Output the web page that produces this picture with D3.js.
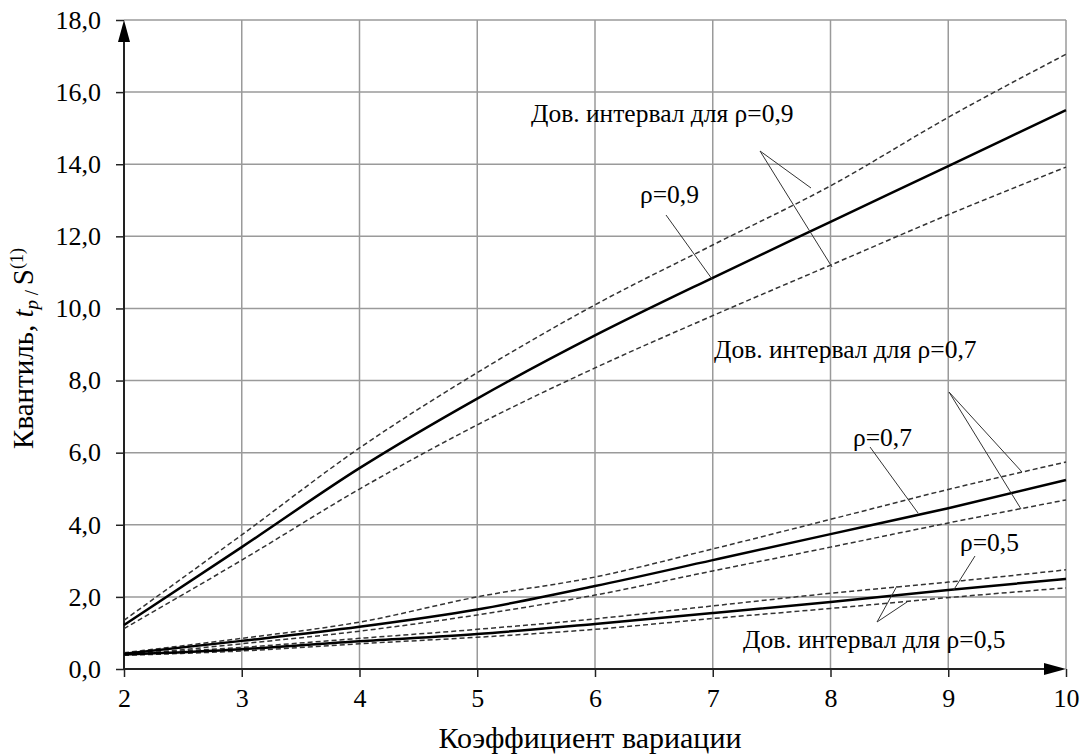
<!DOCTYPE html>
<html>
<head>
<meta charset="utf-8">
<script src="https://cdn.jsdelivr.net/npm/d3@7"></script>
</head>
<body style="margin:0; background:#fff">
<svg id="chart"></svg>
<script>
// values
const cv = [2, 3, 4, 5, 6, 7, 8, 9, 10];

const rho9 = [1.22, 3.38, 5.57, 7.5, 9.25, 10.85, 12.4, 13.95, 15.5];
const rho9Hi = [1.35, 3.72, 6.13, 8.22, 10.1, 11.76, 13.4, 15.3, 17.05];
const rho9Lo = [1.12, 3.02, 4.99, 6.77, 8.35, 9.8, 11.2, 12.6, 13.92];

const rho7 = [0.42, 0.78, 1.17, 1.65, 2.3, 3.02, 3.74, 4.46, 5.24];
const rho7Hi = [0.45, 0.85, 1.3, 2.0, 2.55, 3.33, 4.15, 4.98, 5.74];
const rho7Lo = [0.38, 0.7, 1.05, 1.5, 2.05, 2.72, 3.38, 4.05, 4.69];

const rho5 = [0.4, 0.55, 0.77, 0.97, 1.25, 1.55, 1.86, 2.19, 2.5];
const rho5Hi = [0.42, 0.6, 0.85, 1.1, 1.39, 1.75, 2.1, 2.41, 2.75];
const rho5Lo = [0.38, 0.5, 0.7, 0.88, 1.1, 1.4, 1.68, 1.98, 2.25];

const xTicks = [2, 3, 4, 5, 6, 7, 8, 9, 10];
const yTicks = [0, 2, 4, 6, 8, 10, 12, 14, 16, 18];

const width = 1086;
const height = 756;
const margin = {left: 124, right: 20, top: 20, bottom: 87};
const serif = "Liberation Serif";

const svg = d3.select("#chart")
    .attr("width", width)
    .attr("height", height);

const x = d3.scaleLinear().domain([2, 10]).range([margin.left, width - margin.right]);
const y = d3.scaleLinear().domain([0, 18]).range([height - margin.bottom, margin.top]);

const fmt = d => d3.format(".1f")(d).replace(".", ",");

// grid
svg.append("g")
    .attr("stroke", "#9a9a9a")
    .attr("stroke-width", 1.5)
    .call(g => g.selectAll("line.v").data(xTicks.slice(1)).join("line")
        .attr("x1", d => x(d)).attr("x2", d => x(d))
        .attr("y1", y(0)).attr("y2", y(18)))
    .call(g => g.selectAll("line.h").data(yTicks.slice(1)).join("line")
        .attr("y1", d => y(d)).attr("y2", d => y(d))
        .attr("x1", x(2)).attr("x2", x(10)));

// axes
const xAxis = svg.append("g")
    .attr("transform", `translate(0,${y(0)})`)
    .call(d3.axisBottom(x).tickValues(xTicks).tickSize(8).tickPadding(12).tickFormat(d3.format("d")));
const yAxis = svg.append("g")
    .attr("transform", `translate(${x(2)},0)`)
    .call(d3.axisLeft(y).tickValues(yTicks).tickSize(8).tickPadding(15).tickFormat(fmt));

[xAxis, yAxis].forEach(a => {
    a.select(".domain").remove();
    a.selectAll("line").attr("stroke", "#222").attr("stroke-width", 1.5);
    a.selectAll("text")
        .attr("font-family", serif)
        .attr("font-size", 26)
        .attr("fill", "#000");
});

svg.append("line")
    .attr("x1", x(2)).attr("x2", x(10) - 10)
    .attr("y1", y(0)).attr("y2", y(0))
    .attr("stroke", "#222").attr("stroke-width", 2);
svg.append("line")
    .attr("x1", x(2)).attr("x2", x(2))
    .attr("y1", y(0)).attr("y2", y(18) + 10)
    .attr("stroke", "#222").attr("stroke-width", 2);

// arrows
svg.append("path")
    .attr("d", `M${x(10)},${y(0)} L${x(10) - 22},${y(0) - 6} L${x(10) - 22},${y(0) + 6} Z`)
    .attr("fill", "#000");
svg.append("path")
    .attr("d", `M${x(2)},${y(18)} L${x(2) - 6},${y(18) + 22} L${x(2) + 6},${y(18) + 22} Z`)
    .attr("fill", "#000");

// curves
const line = d3.line()
    .x((d, i) => x(cv[i]))
    .y(d => y(d))
    .curve(d3.curveMonotoneX);

const dashed = [rho9Hi, rho9Lo, rho7Hi, rho7Lo, rho5Hi, rho5Lo];
const solid = [rho9, rho7, rho5];

svg.append("g")
    .selectAll("path")
    .data(dashed)
    .join("path")
    .attr("d", line)
    .attr("fill", "none")
    .attr("stroke", "#333")
    .attr("stroke-width", 1.5)
    .attr("stroke-dasharray", "5,3");

svg.append("g")
    .selectAll("path")
    .data(solid)
    .join("path")
    .attr("d", line)
    .attr("fill", "none")
    .attr("stroke", "#000")
    .attr("stroke-width", 2.5);

// annotations
const labels = [
    {t: "Дов. интервал для ρ=0,9", x: 531, y: 122},
    {t: "ρ=0,9", x: 640, y: 203},
    {t: "Дов. интервал для ρ=0,7", x: 714, y: 358},
    {t: "ρ=0,7", x: 853, y: 446},
    {t: "ρ=0,5", x: 960, y: 551},
    {t: "Дов. интервал для ρ=0,5", x: 743, y: 648}
];
svg.append("g")
    .selectAll("text")
    .data(labels)
    .join("text")
    .attr("x", d => d.x)
    .attr("y", d => d.y)
    .attr("font-family", serif)
    .attr("font-size", 25.5)
    .text(d => d.t);

const leaders = [
    [760, 151, 811, 188], [760, 151, 832, 267],
    [666, 215, 712, 279],
    [949, 392, 1022, 472], [949, 392, 1021, 509],
    [870, 447, 918, 513],
    [975, 556, 953, 591],
    [877, 622, 897, 586], [877, 622, 907, 602]
];
svg.append("g")
    .attr("stroke", "#333")
    .attr("stroke-width", 1)
    .selectAll("line")
    .data(leaders)
    .join("line")
    .attr("x1", d => d[0]).attr("y1", d => d[1])
    .attr("x2", d => d[2]).attr("y2", d => d[3]);

// axis titles
svg.append("text")
    .attr("x", 590)
    .attr("y", 748)
    .attr("text-anchor", "middle")
    .attr("font-family", serif)
    .attr("font-size", 30)
    .text("Коэффициент вариации");

const yt = svg.append("text")
    .attr("transform", `translate(33,${y(9) + 4}) rotate(-90)`)
    .attr("text-anchor", "middle")
    .attr("font-family", serif)
    .attr("font-size", 29);
yt.append("tspan").text("Квантиль, ");
yt.append("tspan").attr("font-style", "italic").text("t");
yt.append("tspan").attr("font-size", 19).attr("dy", 5).attr("font-style", "italic").text("p");
yt.append("tspan").attr("font-size", 19).text(" / ");
yt.append("tspan").attr("dy", -5).text("S");
yt.append("tspan").attr("font-size", 18).attr("dy", -10).text("(1)");
</script>
</body>
</html>
